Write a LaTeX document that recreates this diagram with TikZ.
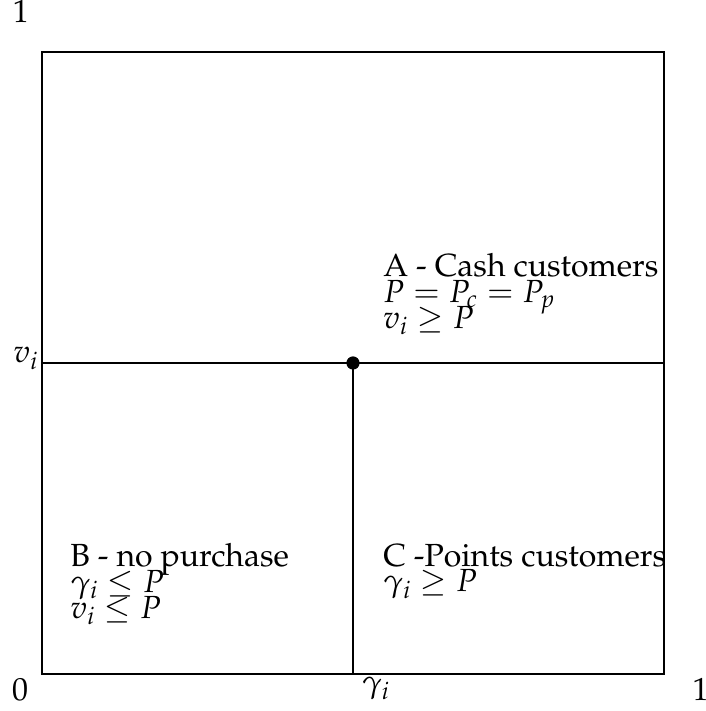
\documentclass[tikz,border=0pt]{standalone}
\usepackage[T1]{fontenc}
\usepackage{mathpazo}
\usepackage{amsmath}
\usetikzlibrary{positioning}

\begin{document}
\begin{tikzpicture}[x=311pt, y=311pt,
  region/.style={align=left, anchor=base west, inner sep=0pt,
    font={\fontsize{16}{12.8}\selectfont\lineskiplimit-20pt}},
  tick/.style={inner sep=0pt, anchor=base, font=\fontsize{16}{12}\selectfont}]
  \useasboundingbox (-0.0675,-0.0595) rectangle (1.0675,1.0836);

  % unit square, split at the point (P,P)
  \draw[line width=0.6pt] (0,0) rectangle (1,1);
  \coordinate (left) at (0,0.5);
  \coordinate (right) at (1,0.5);
  \coordinate (bottom) at (0.5,0);
  \draw[line width=0.6pt] (left) -- (right);
  \node[circle, fill, inner sep=0pt, minimum size=6.6pt] (price) at (0.5,0.5) {};
  \draw[line width=0.6pt] (price.center) -- (bottom);

  % axis labels
  \node[tick] (one-y) at (-0.034,1.0466) {1};
  \node[tick] (zero) at (-0.035,-0.042) {0};
  \node[tick] (one-x) at (1.059,-0.043) {1};
  \node[tick, anchor=base west] (vi) at (-0.0466,0.5) {$v_i$};
  \node[tick] (gammai) at (0.537,-0.0305) {$\gamma_i$};

  % the three regions (base = last line)
  \node[region] (cash) at (0.548,0.556) {A - Cash customers\\
    $P = P_c = P_p$\\
    $v_i \geq P$};
  \node[region] (none) at (0.045,0.090) {B - no purchase\\
    $\gamma_i \leq P$\\
    $v_i \leq P$};
  \node[region] (points) at (0.548,0.132) {C -Points customers\\
    $\gamma_i \geq P$};
\end{tikzpicture}
\end{document}
